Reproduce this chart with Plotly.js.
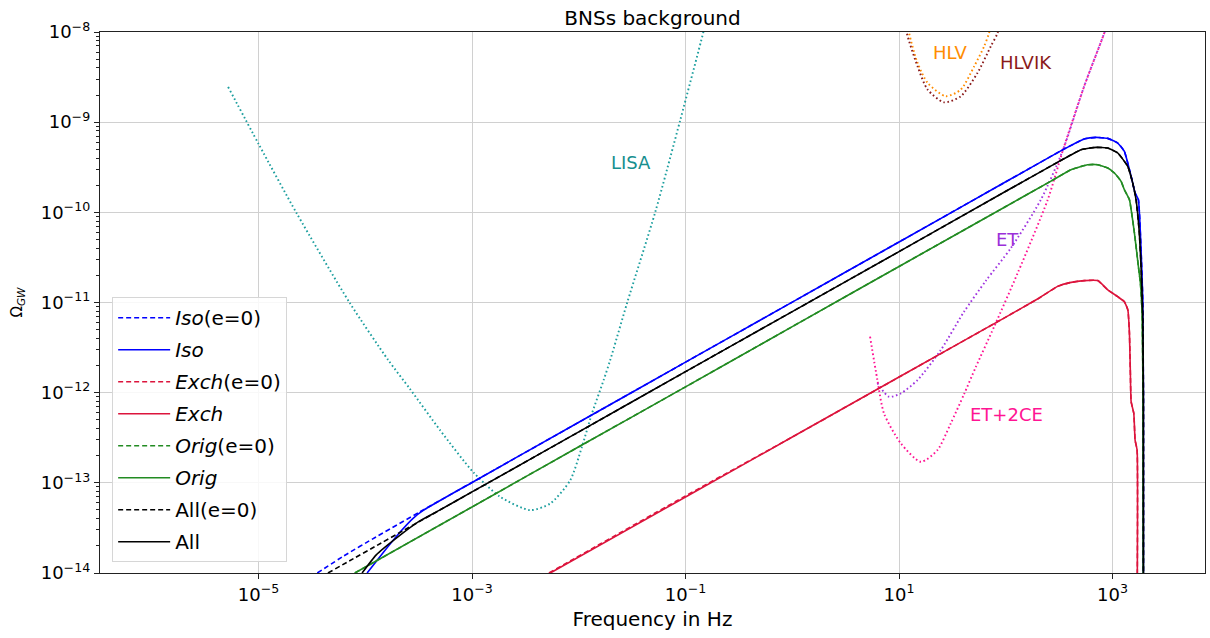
<!DOCTYPE html>
<html><head><meta charset="utf-8">
<script src="https://cdn.plot.ly/plotly-3.0.1.min.js"></script>
<style>html,body{margin:0;padding:0;background:#fff}</style>
</head><body><div id="chart" style="width:1210px;height:638px"></div>
<script>
// ---------- main spectra (frequency in Hz, Omega_GW) ----------
const isoE0Freq  = [3.55e-5, 6.31e-5, 1.26e-4, 3.16e-4, 1e-3, 1e-2, 0.1, 1, 10, 100, 353, 543, 700, 902, 1119, 1291, 1493, 1626, 1746, 1849, 1919, 1945, 1945];
const isoE0Omega = [1.0e-14, 1.55e-14, 2.51e-14, 4.68e-14, 1.01e-13, 4.69e-13, 2.18e-12, 1.01e-11, 4.69e-11, 2.18e-10, 5.05e-10, 6.52e-10, 6.79e-10, 6.61e-10, 5.87e-10, 4.74e-10, 2.51e-10, 1.64e-10, 1.38e-10, 3.84e-11, 1.07e-11, 1e-12, 3.16e-15];

const isoFreq  = [1.04e-4, 1.48e-4, 2.12e-4, 2.82e-4, 3.55e-4, 1e-3, 1e-2, 0.1, 1, 10, 100, 353, 543, 700, 902, 1119, 1291, 1493, 1626, 1746, 1849, 1919, 1945, 1945];
const isoOmega = [1.0e-14, 1.70e-14, 2.85e-14, 4.07e-14, 5.01e-14, 1.01e-13, 4.69e-13, 2.18e-12, 1.01e-11, 4.69e-11, 2.18e-10, 5.05e-10, 6.52e-10, 6.79e-10, 6.61e-10, 5.87e-10, 4.74e-10, 2.51e-10, 1.64e-10, 1.38e-10, 3.84e-11, 1.07e-11, 1e-12, 3.16e-15];

const exchE0Freq  = [5.25e-3, 0.1, 1, 10, 100, 200, 306, 398, 543, 726, 902, 1119, 1291, 1390, 1439, 1469, 1493, 1581, 1626, 1698, 1698];
const exchE0Omega = [1.0e-14, 7.16e-14, 3.22e-13, 1.49e-12, 6.89e-12, 1.10e-11, 1.51e-11, 1.66e-11, 1.75e-11, 1.75e-11, 1.38e-11, 1.16e-11, 1.02e-11, 8.28e-12, 4.57e-12, 1.64e-12, 7.94e-13, 5.89e-13, 2.98e-13, 2.31e-13, 3.16e-15];

const exchFreq  = [5.41e-3, 0.1, 1, 10, 100, 200, 306, 398, 543, 726, 902, 1119, 1291, 1390, 1439, 1469, 1493, 1581, 1626, 1698, 1698];
const exchOmega = [1.0e-14, 6.97e-14, 3.22e-13, 1.49e-12, 6.89e-12, 1.10e-11, 1.51e-11, 1.66e-11, 1.75e-11, 1.75e-11, 1.38e-11, 1.16e-11, 1.02e-11, 8.28e-12, 4.57e-12, 1.64e-12, 7.94e-13, 5.89e-13, 2.98e-13, 2.31e-13, 3.16e-15];

const origE0Freq  = [7.98e-5, 1e-3, 1e-2, 0.1, 1, 10, 100, 265, 408, 585, 726, 902, 1040, 1202, 1291, 1439, 1603, 1746, 1824, 1892, 1928, 1945];
const origE0Omega = [1.0e-14, 5.40e-14, 2.51e-13, 1.16e-12, 5.40e-12, 2.51e-11, 1.16e-10, 2.22e-10, 2.97e-10, 3.37e-10, 3.37e-10, 3.10e-10, 2.73e-10, 2.20e-10, 1.78e-10, 1.38e-10, 5.89e-11, 2.51e-11, 1.64e-11, 7.59e-12, 1e-12, 3.16e-15];

const origFreq  = [7.98e-5, 1e-3, 1e-2, 0.1, 1, 10, 100, 265, 408, 585, 726, 902, 1040, 1202, 1291, 1439, 1603, 1746, 1824, 1892, 1928, 1945];
const origOmega = [1.0e-14, 5.40e-14, 2.51e-13, 1.16e-12, 5.40e-12, 2.51e-11, 1.16e-10, 2.22e-10, 2.97e-10, 3.37e-10, 3.37e-10, 3.10e-10, 2.73e-10, 2.20e-10, 1.78e-10, 1.38e-10, 5.89e-11, 2.51e-11, 1.64e-11, 7.59e-12, 1e-12, 3.16e-15];

const allE0Freq  = [4.47e-5, 1e-3, 1e-2, 0.1, 1, 10, 100, 316, 507, 700, 902, 1119, 1387, 1545, 1660, 1782, 1849, 1919, 1945, 1945];
const allE0Omega = [1.0e-14, 7.93e-14, 3.67e-13, 1.71e-12, 7.93e-12, 3.67e-11, 1.71e-10, 3.67e-10, 4.95e-10, 5.25e-10, 5.16e-10, 4.55e-10, 3.24e-10, 2.11e-10, 1.38e-10, 5.89e-11, 2.51e-11, 6.97e-12, 8.32e-13, 3.16e-15];

const allFreq  = [9.33e-5, 1.26e-4, 2.12e-4, 3.16e-4, 5.01e-4, 1e-3, 1e-2, 0.1, 1, 10, 100, 316, 507, 700, 902, 1119, 1387, 1545, 1660, 1782, 1849, 1919, 1945, 1945];
const allOmega = [1.0e-14, 1.58e-14, 2.63e-14, 3.72e-14, 5.01e-14, 7.93e-14, 3.67e-13, 1.71e-12, 7.93e-12, 3.67e-11, 1.71e-10, 3.67e-10, 4.95e-10, 5.25e-10, 5.16e-10, 4.55e-10, 3.24e-10, 2.11e-10, 1.38e-10, 5.89e-11, 2.51e-11, 6.97e-12, 8.32e-13, 3.16e-15];

// ---------- detector sensitivity curves ----------
const lisaFreq  = [5.19e-6, 1.01e-5, 2.27e-5, 7.18e-5, 1.64e-4, 2.62e-4, 5.02e-4, 1.03e-3, 1.84e-3, 3.51e-3, 5.41e-3, 8.32e-3, 1.07e-2, 1.33e-2, 1.71e-2, 1.97e-2, 2.83e-2, 5.22e-2, 8.95e-2, 0.147, 0.178];
const lisaOmega = [2.46e-9, 5.62e-10, 9.82e-11, 9.82e-12, 2.30e-12, 1.10e-12, 3.84e-13, 1.31e-13, 6.98e-14, 4.98e-14, 5.90e-14, 1.07e-13, 2.51e-13, 5.89e-13, 1.38e-12, 2.30e-12, 9.82e-12, 1.02e-10, 1.07e-9, 1e-8, 2.5e-8];

const hlvFreq  = [11.2, 12.4, 14.9, 18.5, 27.4, 37.9, 50.6, 62.7, 69.8, 79.4];
const hlvOmega = [2.0e-8, 9.79e-9, 4.55e-9, 2.73e-9, 1.94e-9, 2.30e-9, 4.17e-9, 6.95e-9, 9.79e-9, 2.0e-8];

const hlvikFreq  = [10.7, 11.8, 14.9, 18.5, 26.4, 37.9, 54.3, 72.4, 83.8, 95.5];
const hlvikOmega = [2.0e-8, 9.79e-9, 4.17e-9, 2.30e-9, 1.66e-9, 1.94e-9, 3.52e-9, 6.95e-9, 9.79e-9, 2.0e-8];

const etFreq  = [6.27, 8.05, 10.4, 14.9, 24.6, 40.5, 65.0, 112, 213, 344, 541, 838, 1072];
const etOmega = [1.28e-12, 9.02e-13, 9.82e-13, 1.38e-12, 2.97e-12, 7.85e-12, 1.74e-11, 4.04e-11, 1.38e-10, 4.95e-10, 2.48e-9, 9.79e-9, 2.29e-8];

const et2ceFreq  = [5.35, 6.27, 7.23, 10.4, 16.0, 22.9, 30.5, 40.7, 52.4, 77.8, 129, 247, 344, 541, 838, 1072];
const et2ceOmega = [4.18e-12, 1.38e-12, 5.89e-13, 2.74e-13, 1.71e-13, 2.31e-13, 4.56e-13, 9.66e-13, 1.93e-12, 5.40e-12, 2.11e-11, 1.38e-10, 4.95e-10, 2.48e-9, 9.79e-9, 2.29e-8];

// ---------- tick labels ----------
const xTickVals = [1e-5, 1e-3, 1e-1, 1e1, 1e3];
const xTickText = ['10<sup>\u22125</sup>', '10<sup>\u22123</sup>', '10<sup>\u22121</sup>', '10<sup>1</sup>', '10<sup>3</sup>'];
const yTickVals = [1e-14, 1e-13, 1e-12, 1e-11, 1e-10, 1e-9, 1e-8];
const yTickText = ['10<sup>\u221214</sup>', '10<sup>\u221213</sup>', '10<sup>\u221212</sup>', '10<sup>\u221211</sup>', '10<sup>\u221210</sup>', '10<sup>\u22129</sup>', '10<sup>\u22128</sup>'];

const yMinor = [];
for (let e = -14; e <= -9; e++) for (let m = 2; m <= 9; m++) yMinor.push(m * Math.pow(10, e));

const FONT = 'DejaVu Sans, Verdana, sans-serif';
const DOT = '1.6px,2.6px';
const DASH = '5px,3px';

function sens(x, y, color) {
  return {x: x, y: y, type: 'scatter', mode: 'lines', showlegend: false, hoverinfo: 'skip',
          line: {color: color, width: 1.9, dash: DOT, shape: 'spline', smoothing: 0.7}};
}
function main(x, y, name, color, dashed, grp) {
  return {x: x, y: y, type: 'scatter', mode: 'lines', name: name, legendgroup: grp,
          line: {color: color, width: 1.6, dash: dashed ? DASH : 'solid', shape: 'spline', smoothing: 0.4}};
}

const traces = [
  sens(lisaFreq, lisaOmega, '#1b9e9e'),
  sens(hlvFreq, hlvOmega, '#ff8c00'),
  sens(hlvikFreq, hlvikOmega, '#8b1a1a'),
  sens(etFreq, etOmega, '#a035e0'),
  sens(et2ceFreq, et2ceOmega, '#ff1493'),
  main(isoE0Freq, isoE0Omega, '<i>Iso</i>(e=0)', '#0000ff', true, 'g1'),
  main(isoFreq, isoOmega, '<i>Iso</i>', '#0000ff', false, 'g2'),
  main(exchE0Freq, exchE0Omega, '<i>Exch</i>(e=0)', '#dc143c', true, 'g3'),
  main(exchFreq, exchOmega, '<i>Exch</i>', '#dc143c', false, 'g4'),
  main(origE0Freq, origE0Omega, '<i>Orig</i>(e=0)', '#228b22', true, 'g5'),
  main(origFreq, origOmega, '<i>Orig</i>', '#228b22', false, 'g6'),
  main(allE0Freq, allE0Omega, 'All(e=0)', '#000000', true, 'g7'),
  main(allFreq, allOmega, 'All', '#000000', false, 'g8')
];

function label(txt, x, y, color) {
  return {text: txt, x: x, y: y, xref: 'x', yref: 'y', showarrow: false,
          font: {family: FONT, size: 18, color: color}};
}

const layout = {
  width: 1210, height: 638,
  margin: {l: 100, r: 5, t: 32, b: 65},
  paper_bgcolor: '#ffffff', plot_bgcolor: '#ffffff',
  font: {family: FONT, color: '#000'},
  title: {text: 'BNSs background', x: 0.5, xref: 'paper', y: 1 - 18 / 638, yref: 'container',
          yanchor: 'middle', font: {family: FONT, size: 20, color: '#000'}},
  xaxis: {
    type: 'log', range: [-6.485, 3.866], autorange: false,
    tickmode: 'array', tickvals: xTickVals, ticktext: xTickText,
    ticks: 'outside', ticklen: 5, tickcolor: '#222', tickfont: {family: FONT, size: 18, color: '#000'},
    showgrid: true, gridcolor: '#d0d0d0', gridwidth: 1,
    showline: true, linecolor: '#222', linewidth: 1.2, mirror: true, zeroline: false,
    title: {text: 'Frequency in Hz', font: {family: FONT, size: 20, color: '#000'}, standoff: 8},
    automargin: false
  },
  yaxis: {
    type: 'log', range: [-14, -8], autorange: false,
    tickmode: 'array', tickvals: yTickVals, ticktext: yTickText,
    ticks: 'outside', ticklen: 5, tickcolor: '#222', tickfont: {family: FONT, size: 18, color: '#000'},
    minor: {tickmode: 'array', tickvals: yMinor, ticks: 'outside', ticklen: 3, tickcolor: '#222', showgrid: false},
    showgrid: true, gridcolor: '#d0d0d0', gridwidth: 1,
    showline: true, linecolor: '#222', linewidth: 1.2, mirror: true, zeroline: false,
    title: {text: '\u03A9<sub><i>GW</i></sub>', font: {family: FONT, size: 15, color: '#000'}, standoff: 14},
    automargin: false
  },
  legend: {
    x: 0.011, y: 0.02, xanchor: 'left', yanchor: 'bottom',
    bgcolor: 'rgba(255,255,255,0.85)', bordercolor: '#d6d6d6', borderwidth: 1,
    font: {family: FONT, size: 20, color: '#000'},
    traceorder: 'grouped', tracegroupgap: 3, itemwidth: 52
  },
  annotations: [
    label('LISA', -1.508, -9.45, '#178f8f'),
    label('HLV', 1.485, -8.228, '#ff8c00'),
    label('HLVIK', 2.189, -8.339, '#8b1a1a'),
    label('ET', 2.02, -10.305, '#9b30d9'),
    label('ET+2CE', 2.01, -12.237, '#ff1493')
  ],
  showlegend: true
};

Plotly.newPlot('chart', traces, layout, {displayModeBar: false, staticPlot: true});
</script></body></html>
